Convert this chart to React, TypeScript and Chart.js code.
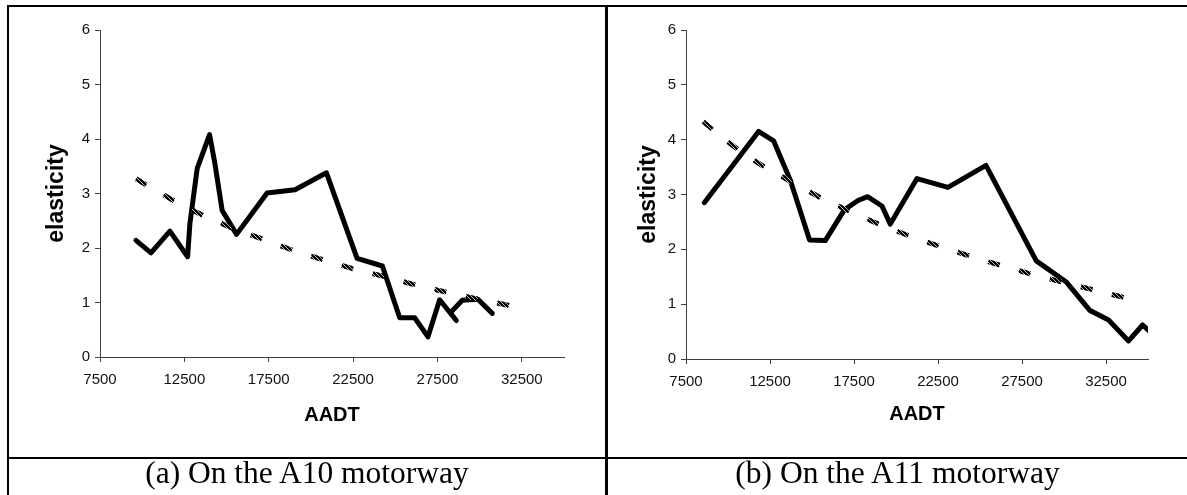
import React, { useEffect, useRef } from "react";
import { Chart, registerables } from "chart.js";

Chart.register(...registerables);

// ---- data ----
const X_TICKS = [7500, 12500, 17500, 22500, 27500, 32500];
const Y_TICKS = [0, 1, 2, 3, 4, 5, 6];
const X_MIN = 7500;
const X_MAX = 35000;
const Y_MIN = 0;
const Y_MAX = 6;

const X_TITLE = "AADT";
const Y_TITLE = "elasticity";
const CAPTION_A = "(a) On the A10 motorway";
const CAPTION_B = "(b) On the A11 motorway";

// (a) A10 motorway
const A10_AADT = [9631, 10520, 11644, 12692, 12828, 13262, 13994, 14310, 14740, 15593, 17404, 19061, 20920, 22736, 24236, 25262, 26150, 26938, 27631, 28617, 28262, 28972, 29897, 30750];
const A10_ELASTICITY = [2.14, 1.91, 2.31, 1.84, 2.45, 3.46, 4.08, 3.55, 2.69, 2.25, 3.01, 3.07, 3.38, 1.81, 1.67, 0.72, 0.72, 0.37, 1.05, 0.67, 0.81, 1.04, 1.06, 0.8];
const A10_TREND_AADT = [9631, 11745, 13580, 15297, 17167, 19002, 20778, 22596, 24431, 26207, 28024, 29801, 31675, 32009];
const A10_TREND = [3.27, 2.89, 2.6, 2.37, 2.16, 1.95, 1.78, 1.61, 1.47, 1.32, 1.19, 1.07, 0.95, 0.92];

// (b) A11 motorway
const A11_AADT = [8589, 11821, 12714, 13708, 14857, 15791, 16922, 17737, 18309, 19166, 19660, 21249, 23094, 25356, 28350, 30118, 31522, 32653, 33843, 34677, 35300];
const A11_ELASTICITY = [2.85, 4.15, 3.98, 3.26, 2.17, 2.16, 2.72, 2.89, 2.96, 2.79, 2.46, 3.29, 3.13, 3.53, 1.79, 1.41, 0.89, 0.71, 0.33, 0.62, 0.45];
const A11_TREND_AADT = [8520, 10333, 11964, 13607, 15393, 17178, 18964, 20750, 22636, 24463, 26309, 28130, 29938, 31760, 33587, 33945];
const A11_TREND = [4.33, 3.88, 3.54, 3.26, 2.96, 2.7, 2.46, 2.25, 2.05, 1.87, 1.7, 1.54, 1.4, 1.26, 1.12, 1.1];

const toPoints = (xs: number[], ys: number[]) => xs.map((x, i) => ({ x, y: ys[i] }));

// hatched fill used for the trend-line dashes
function makeHatch(): CanvasPattern | string {
  const n = 4;
  const c = document.createElement("canvas");
  c.width = n;
  c.height = n;
  const g = c.getContext("2d");
  if (!g) return "#2a2a2a";
  g.fillStyle = "#000";
  g.fillRect(0, 0, n, n);
  g.fillStyle = "#bbb";
  for (let y = 0; y < n; y++) {
    g.fillRect((y + 1) % n, y, 1, 1);
  }
  return g.createPattern(c, "repeat") || "#2a2a2a";
}

type PanelProps = {
  aadt: number[];
  values: number[];
  trendAadt: number[];
  trend: number[];
  width: number;
  height: number;
  yAxisWidth: number;
  xAxisHeight: number;
  padTop: number;
  padRight: number;
  yTitlePad: number;
  xTitlePad: number;
};

function Panel(p: PanelProps) {
  const ref = useRef<HTMLCanvasElement | null>(null);
  useEffect(() => {
    if (!ref.current) return;
    const axisColor = "#404040";
    const chart = new Chart(ref.current, {
      type: "line",
      data: {
        datasets: [
          {
            label: "trend",
            data: toPoints(p.trendAadt, p.trend),
            borderColor: makeHatch(),
            borderWidth: 5,
            borderDash: [12, 20],
            borderCapStyle: "butt",
            pointRadius: 0,
            tension: 0,
            fill: false,
            clip: 0,
          },
          {
            label: "elasticity",
            data: toPoints(p.aadt, p.values),
            borderColor: "#000000",
            borderWidth: 5,
            borderJoinStyle: "round",
            borderCapStyle: "round",
            pointRadius: 0,
            tension: 0,
            fill: false,
            clip: 0,
          },
        ],
      },
      options: {
        animation: false,
        responsive: false,
        events: [],
        layout: { padding: { left: 0, top: p.padTop, right: p.padRight, bottom: 0 } },
        plugins: { legend: { display: false }, tooltip: { enabled: false } },
        scales: {
          x: {
            type: "linear",
            min: X_MIN,
            max: X_MAX,
            afterBuildTicks: (s: any) => {
              s.ticks = X_TICKS.map((v) => ({ value: v }));
            },
            afterFit: (s: any) => {
              s.height = p.xAxisHeight;
            },
            ticks: {
              autoSkip: false,
              maxRotation: 0,
              padding: 9,
              color: "#111",
              font: { family: "Liberation Sans", size: 15 },
              callback: (v: any) => String(v),
            },
            grid: { display: true, drawOnChartArea: false, drawTicks: true, tickLength: 5, color: axisColor, lineWidth: 1 },
            border: { display: true, color: axisColor, width: 1 },
            title: {
              display: true,
              text: X_TITLE,
              color: "#000",
              font: { family: "Liberation Sans", size: 20, weight: "bold" },
              padding: { top: 0, bottom: p.xTitlePad },
            },
          },
          y: {
            type: "linear",
            min: Y_MIN,
            max: Y_MAX,
            afterBuildTicks: (s: any) => {
              s.ticks = Y_TICKS.map((v) => ({ value: v }));
            },
            afterFit: (s: any) => {
              s.width = p.yAxisWidth;
            },
            ticks: {
              padding: 5,
              color: "#111",
              font: { family: "Liberation Sans", size: 15 },
              callback: (v: any) => String(v),
            },
            grid: { display: true, drawOnChartArea: false, drawTicks: true, tickLength: 5, color: axisColor, lineWidth: 1 },
            border: { display: true, color: axisColor, width: 1 },
            title: {
              display: true,
              text: Y_TITLE,
              color: "#000",
              font: { family: "Liberation Sans", size: 23, weight: "bold" },
              padding: { top: p.yTitlePad, bottom: 0 },
            },
          },
        },
      },
    } as any);
    return () => chart.destroy();
  }, []);
  return <canvas ref={ref} width={p.width} height={p.height} style={{ display: "block" }} />;
}

const line = (style: React.CSSProperties): React.CSSProperties => ({
  position: "absolute",
  background: "#000",
  ...style,
});

const captionStyle = (left: number, width: number): React.CSSProperties => ({
  position: "absolute",
  left,
  width,
  top: 458,
  textAlign: "center",
  fontFamily: "'Liberation Serif', 'Times New Roman', serif",
  fontSize: 31.5,
  lineHeight: "30px",
  color: "#000",
  whiteSpace: "nowrap",
});

export default function App() {
  return (
    <div
      style={{
        position: "absolute",
        left: 0,
        top: 0,
        width: 1187,
        height: 495,
        overflow: "hidden",
        background: "#fff",
      }}
    >
      <div style={{ position: "absolute", left: 9, top: 7 }}>
        <Panel
          aadt={A10_AADT}
          values={A10_ELASTICITY}
          trendAadt={A10_TREND_AADT}
          trend={A10_TREND}
          width={596}
          height={450}
          yAxisWidth={91}
          xAxisHeight={100}
          padTop={23}
          padRight={41}
          yTitlePad={34}
          xTitlePad={30}
        />
      </div>
      <div style={{ position: "absolute", left: 608, top: 7 }}>
        <Panel
          aadt={A11_AADT}
          values={A11_ELASTICITY}
          trendAadt={A11_TREND_AADT}
          trend={A11_TREND}
          width={579}
          height={450}
          yAxisWidth={78}
          xAxisHeight={98}
          padTop={23}
          padRight={39}
          yTitlePad={27}
          xTitlePad={31}
        />
      </div>
      {/* table borders */}
      <div style={line({ left: 7, top: 5, width: 1200, height: 2 })} />
      <div style={line({ left: 7, top: 5, width: 2, height: 500 })} />
      <div style={line({ left: 605, top: 5, width: 3, height: 500 })} />
      <div style={line({ left: 7, top: 457, width: 1200, height: 2 })} />
      <div style={captionStyle(9, 596)}>{CAPTION_A}</div>
      <div style={captionStyle(608, 579)}>{CAPTION_B}</div>
    </div>
  );
}
